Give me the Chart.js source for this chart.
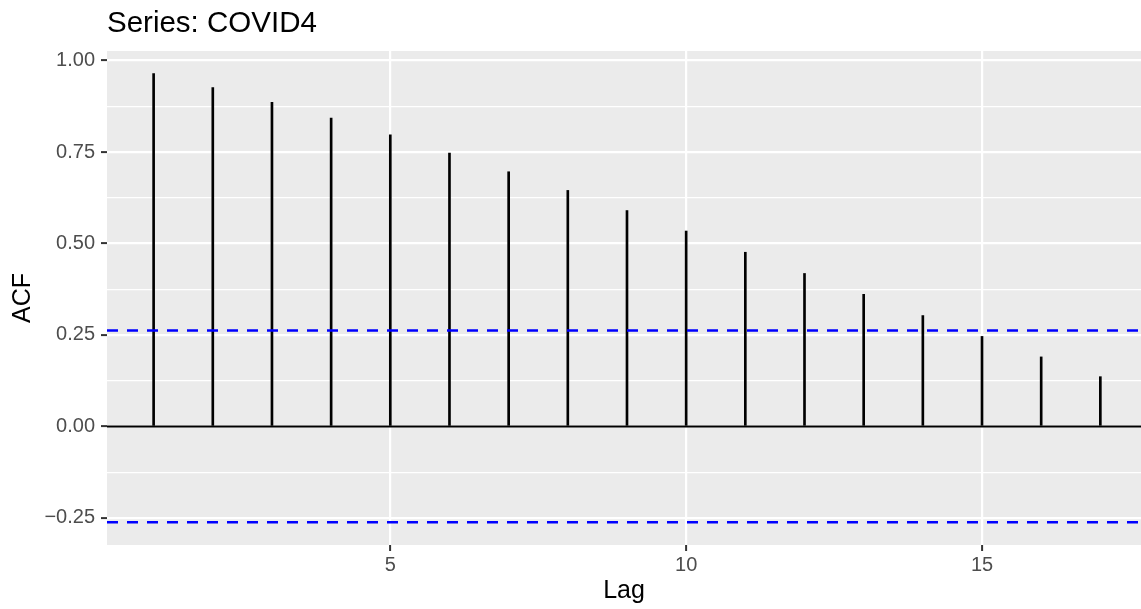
<!DOCTYPE html>
<html>
<head>
<meta charset="utf-8">
<script src="https://cdn.jsdelivr.net/npm/chart.js@4/dist/chart.umd.min.js"></script>
<style>
  html, body { margin: 0; padding: 0; background: #fff; }
  #wrap { width: 1141px; height: 609px; }
</style>
</head>
<body>
<div id="wrap"><canvas id="acfChart"></canvas></div>
<script>
// data
const lags = [1, 2, 3, 4, 5, 6, 7, 8, 9, 10, 11, 12, 13, 14, 15, 16, 17];
const acfValues = [0.964, 0.926, 0.886, 0.843, 0.797, 0.747, 0.696, 0.645, 0.590,
                   0.534, 0.476, 0.418, 0.361, 0.303, 0.246, 0.190, 0.136];
const ciLimit = 0.262;

const yMajorTicks = [-0.25, 0, 0.25, 0.5, 0.75, 1.0];
const yTickLabels = ['\u22120.25', '0.00', '0.25', '0.50', '0.75', '1.00'];
const yMinorTicks = [-0.125, 0.125, 0.375, 0.625, 0.875];
const xTicks = [5, 10, 15];
const xTickLabels = ['5', '10', '15'];

const xMin = 0.212, xMax = 17.687;
const yMin = -0.324, yMax = 1.026;

const FONT = "'Liberation Sans', Arial, Helvetica, sans-serif";

// grey panel + white page, and the title over the panel's left edge
const panelBg = {
  id: 'panelBg',
  beforeDraw(chart) {
    const c = chart.ctx, a = chart.chartArea;
    c.save();
    c.fillStyle = '#ffffff';
    c.fillRect(0, 0, chart.width, chart.height);
    c.fillStyle = '#EBEBEB';
    c.fillRect(a.left, a.top, a.right - a.left, a.bottom - a.top);
    c.restore();
  },
  afterDraw(chart) {
    const c = chart.ctx, a = chart.chartArea;
    c.save();
    c.fillStyle = '#000';
    c.font = '29.5px ' + FONT;
    c.textBaseline = 'alphabetic';
    c.textAlign = 'left';
    c.fillText('Series: COVID4', a.left, 32);
    c.restore();
  }
};

const isMinor = v => yMinorTicks.some(m => Math.abs(m - v) < 1e-9);

const ctx = document.getElementById('acfChart').getContext('2d');
const acfChart = new Chart(ctx, {
  type: 'bar',
  data: {
    datasets: [
      {
        type: 'line',
        data: [{ x: xMin, y: ciLimit }, { x: xMax, y: ciLimit }],
        borderColor: '#0000FF',
        borderWidth: 2.5,
        borderDash: [11, 9],
        pointRadius: 0,
        fill: false
      },
      {
        type: 'line',
        data: [{ x: xMin, y: -ciLimit }, { x: xMax, y: -ciLimit }],
        borderColor: '#0000FF',
        borderWidth: 2.5,
        borderDash: [11, 9],
        pointRadius: 0,
        fill: false
      },
      {
        type: 'line',
        data: [{ x: xMin, y: 0 }, { x: xMax, y: 0 }],
        borderColor: '#000',
        borderWidth: 2,
        pointRadius: 0,
        fill: false
      },
      {
        type: 'bar',
        data: lags.map((l, i) => ({ x: l, y: acfValues[i] })),
        backgroundColor: '#000',
        borderWidth: 0,
        barThickness: 2
      }
    ]
  },
  options: {
    responsive: true,
    maintainAspectRatio: false,
    animation: false,
    layout: { padding: { top: 51, left: 0, right: 0, bottom: 0 } },
    plugins: {
      legend: { display: false },
      tooltip: { enabled: false }
    },
    scales: {
      x: {
        type: 'linear',
        offset: false,
        min: xMin,
        max: xMax,
        afterBuildTicks: (scale) => { scale.ticks = xTicks.map(v => ({ value: v })); },
        afterFit: (scale) => { scale.height = 64; },
        border: { display: false },
        grid: {
          offset: false,
          color: '#ffffff',
          lineWidth: 2.2,
          tickColor: '#333333',
          tickWidth: 2,
          tickLength: 6
        },
        ticks: {
          autoSkip: false,
          maxRotation: 0,
          padding: 2,
          color: '#4D4D4D',
          font: { family: FONT, size: 20 },
          callback: (value) => {
            const i = xTicks.indexOf(value);
            return i >= 0 ? xTickLabels[i] : '';
          }
        },
        title: {
          display: true,
          text: 'Lag',
          color: '#000',
          font: { family: FONT, size: 25 },
          padding: { top: 0, bottom: 3 }
        }
      },
      y: {
        type: 'linear',
        min: yMin,
        max: yMax,
        afterBuildTicks: (scale) => {
          scale.ticks = yMajorTicks.concat(yMinorTicks)
            .sort((a, b) => a - b)
            .map(v => ({ value: v }));
        },
        afterFit: (scale) => { scale.width = 107; },
        border: { display: false },
        grid: {
          color: '#ffffff',
          lineWidth: (c) => (c.tick && isMinor(c.tick.value) ? 1.2 : 2.2),
          tickColor: (c) => (c.tick && isMinor(c.tick.value) ? 'rgba(0,0,0,0)' : '#333333'),
          tickWidth: 2,
          tickLength: 6
        },
        ticks: {
          autoSkip: false,
          padding: 6,
          color: '#4D4D4D',
          font: { family: FONT, size: 20 },
          callback: (value) => {
            const i = yMajorTicks.findIndex(v => Math.abs(v - value) < 1e-9);
            return i >= 0 ? yTickLabels[i] : '';
          }
        },
        title: {
          display: true,
          text: 'ACF',
          color: '#000',
          font: { family: FONT, size: 25 },
          padding: { top: 8, bottom: 0 }
        }
      }
    }
  },
  plugins: [panelBg]
});
</script>
</body>
</html>
